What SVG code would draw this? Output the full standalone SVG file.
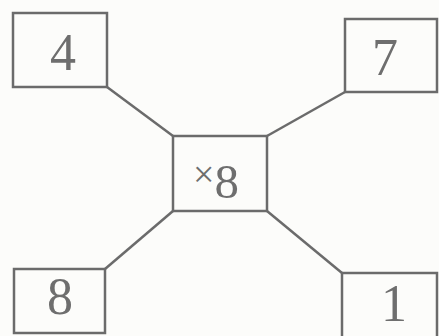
<svg xmlns="http://www.w3.org/2000/svg" width="439" height="336" viewBox="0 0 439 336">
<style>
.box{fill:none;stroke:#6b6b6b;stroke-width:2.5}
.ln{stroke:#6b6b6b;stroke-width:2.5;fill:none}
.t{font-family:"Liberation Serif",serif;font-size:52px;fill:#6e6e6e;text-anchor:middle}
</style>
<rect width="439" height="336" fill="#fcfcfa"/>
<g id="connectors">
<line class="ln" x1="107" y1="87" x2="173" y2="136"/>
<line class="ln" x1="345" y1="92" x2="267" y2="136"/>
<line class="ln" x1="105" y1="269" x2="173" y2="211"/>
<line class="ln" x1="342" y1="273" x2="267" y2="211"/>
</g>
<g id="node-4"><rect class="box" x="13" y="13" width="94" height="74"/><text class="t" x="63" y="70">4</text></g>
<g id="node-7"><rect class="box" x="345" y="19" width="92" height="73"/><text class="t" x="385" y="75">7</text></g>
<g id="node-center"><rect class="box" x="173" y="136" width="94" height="75"/><text class="t" x="193" y="198" style="font-size:49px;text-anchor:start"><tspan font-size="38" dy="-11">×</tspan><tspan dy="11">8</tspan></text></g>
<g id="node-8"><rect class="box" x="14" y="269" width="91" height="64"/><text class="t" x="60" y="314">8</text></g>
<g id="node-1"><rect class="box" x="342" y="273" width="95" height="70"/><text class="t" x="394" y="321">1</text></g>
</svg>
